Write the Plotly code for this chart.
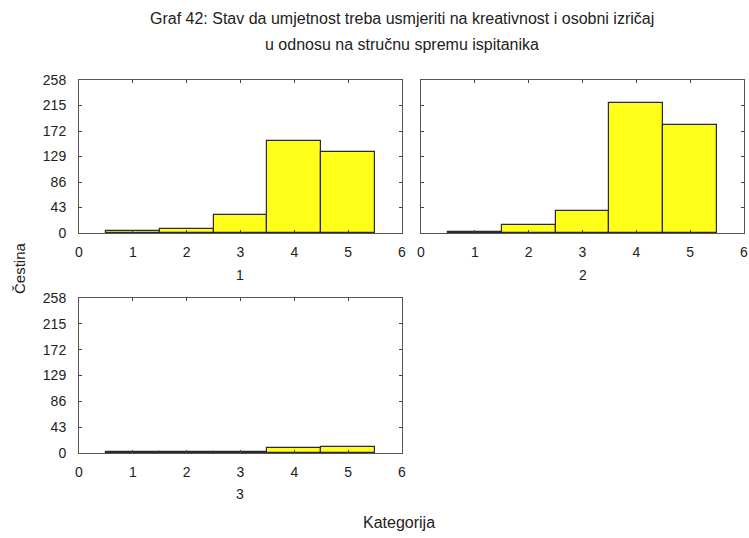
import plotly.graph_objects as go

# Data
categories = [1, 2, 3, 4, 5]
group1 = [4, 6, 31, 155, 137]
group2 = [1, 13, 37, 219, 182]
group3 = [1, 1, 1, 8, 10]
group_labels = ["1", "2", "3"]
y_ticks = [0, 43, 86, 129, 172, 215, 258]
x_ticks = [0, 1, 2, 3, 4, 5, 6]

W, H = 749, 538
font = "Liberation Sans, Arial, sans-serif"
ink = "#222222"


def px_x(a, b):
    return [a / W, b / W]


def px_y(top, bottom):
    return [1 - bottom / H, 1 - top / H]


fig = go.Figure()

panels = [
    (group1, "x", "y"),
    (group2, "x2", "y2"),
    (group3, "x3", "y3"),
]
for vals, xa, ya in panels:
    fig.add_trace(go.Bar(x=categories, y=vals, width=1.0,
                         marker=dict(color="#ffff1a",
                                     line=dict(color="#2a2a2a", width=1.2)),
                         xaxis=xa, yaxis=ya, showlegend=False))

xa_common = dict(range=[0, 6], tickvals=x_ticks, ticks="inside", ticklen=3,
                 showline=True, linecolor="#555555", linewidth=1, mirror="ticks",
                 showgrid=False, zeroline=False, automargin=False,
                 tickfont=dict(size=14, color=ink, family=font),
                 ticklabelstandoff=6, fixedrange=True)
ya_common = dict(range=[0, 258], tickvals=y_ticks, ticks="inside", ticklen=3,
                 showline=True, linecolor="#555555", linewidth=1, mirror="ticks",
                 showgrid=False, zeroline=False, automargin=False,
                 tickfont=dict(size=14, color=ink, family=font),
                 ticklabelstandoff=9, fixedrange=True)

fig.update_layout(
    width=W, height=H,
    margin=dict(l=0, r=0, t=0, b=0),
    paper_bgcolor="white", plot_bgcolor="white",
    bargap=0,
    font=dict(family=font, color=ink),
    xaxis=dict(xa_common, domain=px_x(79, 402), anchor="y"),
    yaxis=dict(ya_common, domain=px_y(80, 233), anchor="x"),
    xaxis2=dict(xa_common, domain=px_x(421, 744), anchor="y2"),
    yaxis2=dict(ya_common, domain=px_y(80, 233), anchor="x2", showticklabels=False),
    xaxis3=dict(xa_common, domain=px_x(79, 402), anchor="y3"),
    yaxis3=dict(ya_common, domain=px_y(298, 453), anchor="x3"),
)

annotations = [
    dict(text="Graf 42: Stav da umjetnost treba usmjeriti na kreativnost i osobni izričaj",
         x=402 / W, y=1 - 19 / H, font=dict(size=16)),
    dict(text="u odnosu na stručnu spremu ispitanika",
         x=402 / W, y=1 - 45 / H, font=dict(size=16)),
    dict(text=group_labels[0], x=240 / W, y=1 - 275 / H, font=dict(size=14)),
    dict(text=group_labels[1], x=583 / W, y=1 - 275 / H, font=dict(size=14)),
    dict(text=group_labels[2], x=240 / W, y=1 - 494 / H, font=dict(size=14)),
    dict(text="Kategorija", x=399 / W, y=1 - 522 / H, font=dict(size=16)),
    dict(text="Čestina", x=19 / W, y=1 - 268 / H, textangle=-90, font=dict(size=15)),
]
for a in annotations:
    fig.add_annotation(xref="paper", yref="paper", showarrow=False,
                       xanchor="center", yanchor="middle", **a)

# page body has an 8px default margin; drop it so the figure fills the window
fig.write_html("out.html", config={"displayModeBar": False},
               post_script="document.body.style.margin='0';")
